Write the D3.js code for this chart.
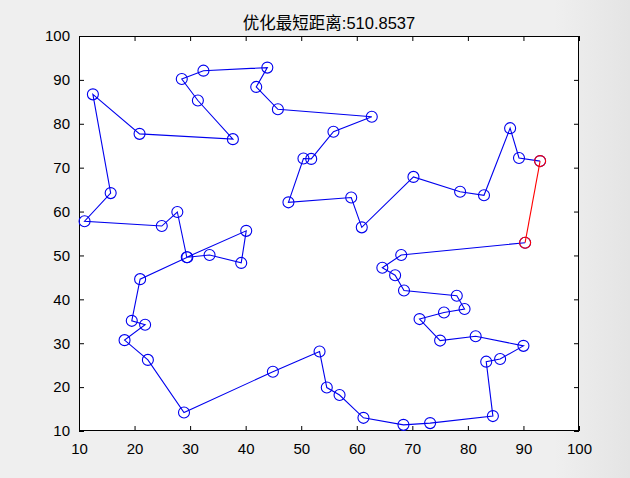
<!DOCTYPE html>
<html>
<head>
<meta charset="utf-8">
<script src="https://cdn.jsdelivr.net/npm/d3@7"></script>
<style>
  body { margin: 0; background: #efefef; }
  svg { display: block; }
</style>
</head>
<body>
<script>
// ---------------- DATA ----------------
var titleText = "优化最短距离:510.8537"

// route order, blue part (start at the red city)
var routeX = [93.0, 89.2, 87.6, 82.9, 78.6, 70.2, 60.9, 59.0, 47.7, 50.4, 51.8, 55.8, 62.7, 45.8, 41.9, 43.9,
  32.4, 28.5, 31.4, 37.7, 20.9, 12.5, 15.7, 11.0, 24.9, 27.7, 29.4, 40.1, 39.2, 33.5, 29.5, 21.0,
  19.5, 21.9, 18.2, 22.4, 28.9, 44.9, 53.3, 54.6, 56.9, 61.2, 68.4, 73.2, 84.5, 83.3, 85.8, 90.0,
  81.4, 75.0, 71.3, 75.7, 79.4, 78.0, 68.5, 66.9, 64.6, 68.0, 90.3]
var routeY = [71.5, 72.2, 79.0, 63.7, 64.5, 67.9, 56.4, 63.2, 62.1, 72.1, 72.0, 78.2, 81.6, 83.3, 88.4, 92.8,
  92.1, 90.2, 85.3, 76.5, 77.7, 86.7, 64.2, 57.8, 56.7, 59.9, 49.6, 55.6, 48.3, 50.1, 49.6, 44.6,
  35.1, 34.2, 30.7, 26.2, 14.2, 23.5, 28.1, 19.9, 18.2, 13.0, 11.4, 11.8, 13.4, 25.8, 26.4, 29.4,
  31.6, 30.6, 35.5, 37.0, 37.8, 40.8, 42.0, 45.5, 47.2, 50.1, 52.9]

var xTicks = [10, 20, 30, 40, 50, 60, 70, 80, 90, 100]
var yTicks = [10, 20, 30, 40, 50, 60, 70, 80, 90, 100]

// ---------------- SVG ----------------
var width = 630
var height = 478
var margin = {left: 79, right: 51, top: 36, bottom: 47}

var svg = d3.select('body').append('svg')
  .attr('width', width)
  .attr('height', height)

var defs = svg.append('defs')
var bg = defs.append('linearGradient').attr('id', 'bg')
bg.append('stop').attr('offset', '0%').style('stop-color', '#efefef')
bg.append('stop').attr('offset', '88%').style('stop-color', '#efefef')
bg.append('stop').attr('offset', '100%').style('stop-color', '#e4e4e4')

svg.append('rect').attr('width', '100%').attr('height', '100%').attr('fill', 'url(#bg)')

var x = d3.scaleLinear().domain([10, 100]).range([margin.left, width - margin.right])
var y = d3.scaleLinear().domain([10, 100]).range([height - margin.bottom, margin.top])

var plotW = width - margin.left - margin.right
var plotH = height - margin.top - margin.bottom

svg.append('rect')
  .attr('x', margin.left).attr('y', margin.top)
  .attr('width', plotW).attr('height', plotH)
  .attr('fill', 'white')

// ---------------- AXES ----------------
var fontAx = 'Liberation Sans, Arial, sans-serif'

function styleAxis(g) {
  g.select('.domain').remove()
  g.selectAll('.tick line').attr('stroke', '#000').attr('stroke-width', 1)
  g.selectAll('.tick text').attr('font-family', fontAx).attr('font-size', 15).attr('fill', '#000')
}

svg.append('g').attr('transform', 'translate(0,' + (height - margin.bottom) + ')')
  .call(d3.axisBottom(x).tickValues(xTicks).tickSize(-5).tickPadding(12).tickFormat(d3.format('d')))
  .call(styleAxis)
svg.append('g').attr('transform', 'translate(0,' + margin.top + ')')
  .call(d3.axisTop(x).tickValues(xTicks).tickSize(-5).tickFormat(''))
  .call(styleAxis)
svg.append('g').attr('transform', 'translate(' + margin.left + ',0)')
  .call(d3.axisLeft(y).tickValues(yTicks).tickSize(-5).tickPadding(9).tickFormat(d3.format('d')))
  .call(styleAxis)
svg.append('g').attr('transform', 'translate(' + (width - margin.right) + ',0)')
  .call(d3.axisRight(y).tickValues(yTicks).tickSize(-5).tickFormat(''))
  .call(styleAxis)

svg.append('rect')
  .attr('x', margin.left + 0.5).attr('y', margin.top + 0.5)
  .attr('width', plotW - 1).attr('height', plotH - 1)
  .attr('fill', 'none').attr('stroke', '#000').attr('stroke-width', 1)

// ---------------- ROUTE ----------------
var pts = routeX.map(function(d, i) { return [d, routeY[i]] })

var line = d3.line().x(d => x(d[0])).y(d => y(d[1]))

svg.append('path')
  .attr('d', line(pts))
  .attr('fill', 'none')
  .attr('stroke', '#0000ee')
  .attr('stroke-width', 1.1)

svg.selectAll('circle.city')
  .data(pts)
  .enter()
  .append('circle')
  .attr('class', 'city')
  .attr('cx', d => x(d[0]))
  .attr('cy', d => y(d[1]))
  .attr('r', 5.5)
  .attr('fill', 'none')
  .attr('stroke', '#0000ee')
  .attr('stroke-width', 1.1)

// closing leg in red
var closing = [pts[pts.length - 1], pts[0]]
svg.append('path')
  .attr('d', line(closing))
  .attr('fill', 'none')
  .attr('stroke', '#ff0000')
  .attr('stroke-width', 1.1)

svg.selectAll('circle.end')
  .data(closing)
  .enter()
  .append('circle')
  .attr('class', 'end')
  .attr('cx', d => x(d[0]))
  .attr('cy', d => y(d[1]))
  .attr('r', 5.5)
  .attr('fill', 'none')
  .attr('stroke', '#ff0000')
  .attr('stroke-width', 1.1)

// ---------------- TITLE ----------------
svg.append('text')
  .attr('x', (margin.left + width - margin.right) / 2)
  .attr('y', 29)
  .attr('text-anchor', 'middle')
  .attr('font-family', 'Liberation Sans, "Noto Sans CJK SC", sans-serif')
  .attr('font-size', 16.5)
  .attr('fill', '#000')
  .text(titleText)
</script>
</body>
</html>
